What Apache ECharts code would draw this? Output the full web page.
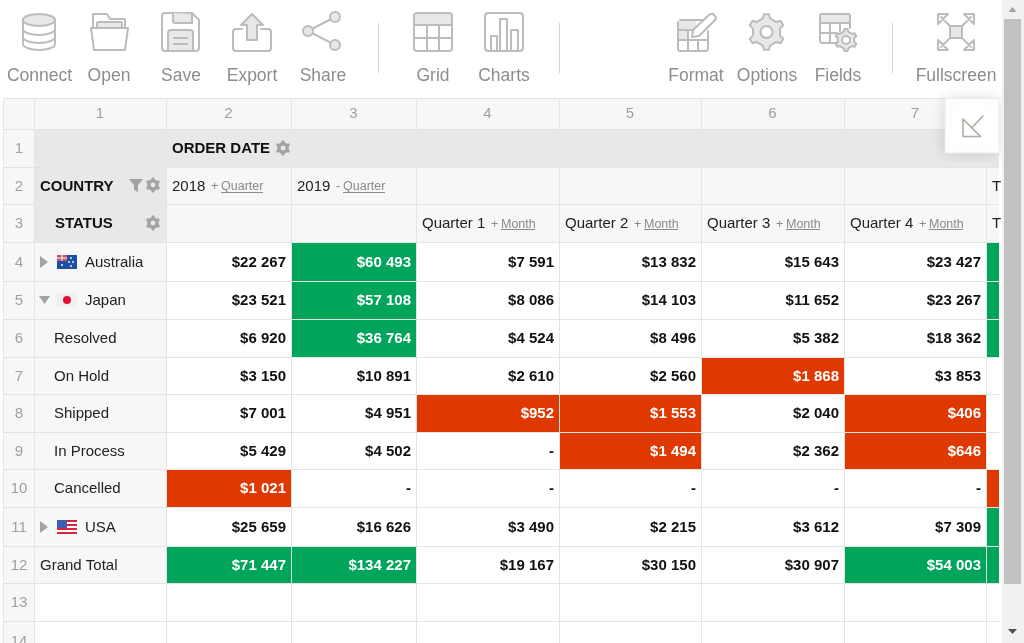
<!DOCTYPE html>
<html><head><meta charset="utf-8"><title>Pivot table</title>
<style>html,body{margin:0;padding:0;background:#fff;overflow:hidden}#c{width:1024px;height:643px}</style>
<script src="https://cdn.jsdelivr.net/npm/echarts@6/dist/echarts.min.js"></script>
</head><body><div id="c"></div>
<script>
// ---- data ----
const toolLabels = ['Connect','Open','Save','Export','Share','Grid','Charts','Format','Options','Fields','Fullscreen'];
const colNumbers = ['1','2','3','4','5','6','7'];
const rowNumbers = ['1','2','3','4','5','6','7','8','9','10','11','12','13','14'];
const countries = ['Australia','Japan','USA'];
const statuses = ['Resolved','On Hold','Shipped','In Process','Cancelled'];
const quarters = ['Quarter 1','Quarter 2','Quarter 3','Quarter 4'];
const years = ['2018','2019'];
const total2018 = [22267,23521,6920,3150,7001,5429,1021,25659,71447];
const total2019 = [60493,57108,36764,10891,4951,4502,null,16626,134227];
const q1 = [7591,8086,4524,2610,952,null,null,3490,19167];
const q2 = [13832,14103,8496,2560,1553,1494,null,2215,30150];
const q3 = [15643,11652,5382,1868,2040,2362,null,3612,30907];
const q4 = [23427,23267,18362,3853,406,646,null,7309,54003];
const grandTotal = [82760,80629,43684,14041,11952,9931,1021,42285,205674];
const valueColumns = [total2018,total2019,q1,q2,q3,q4,grandTotal];

// ---- layout ----
const colEdges = [3,34,166,291,416,559,701,844,986,999];
const rowEdges = [98,129,167,204,242,281,319,357,394,432,469,507,546,583,621,660];
const FONT = '"Liberation Sans",Arial,sans-serif';
const GREEN='#00a45a', RED='#df3800', ZONE='#e8e8e8', HEAD='#f7f7f7', LINE='#e4e4e4', INK='#111111', TXT='#222222', MUTED='#a0a0a0';
const S='#bcbcbc', F='#e8e8e8';
const midY = r => (rowEdges[r]+rowEdges[r+1])/2;
const fmt = v => v==null ? '-' : '$'+String(v).replace(/\B(?=(\d{3})+$)/g,' ');
const heat = v => v==null ? null : v<2000 ? RED : v>35000 ? GREEN : null;

// frame cells: [col,row,colSpan,rowSpan,fill]
const frame = [];
for (let r=0;r<rowEdges.length-1;r++) for (let c=0;c<colEdges.length-1;c++) {
  let fill = '#ffffff';
  if (r===0||c===0||r<=3||(c===1&&r<=12)) fill = HEAD;
  frame.push([c,r,1,1,fill]);
}
frame.push([1,1,8,1,ZONE]);
frame.push([1,2,1,2,ZONE]);
// value cells: [col,row,value]
const cells = [];
valueColumns.forEach((col,i)=>col.forEach((v,j)=>cells.push([i+2,j+4,v])));

// text items: [x,y,text,align,font,color]
const N15='15px '+FONT, B15='bold 15px '+FONT, N13='12.5px '+FONT;
const labels = [];
const txtY = r => midY(r)+1;
colNumbers.forEach((t,i)=>labels.push([(colEdges[i+1]+colEdges[i+2])/2,midY(0),t,'center',N15,MUTED]));
rowNumbers.forEach((t,i)=>labels.push([19,txtY(i+1),t,'center',N15,MUTED]));
labels.push([172,txtY(1),'ORDER DATE','left',B15,INK]);
labels.push([40,txtY(2),'COUNTRY','left',B15,INK]);
labels.push([55,txtY(3),'STATUS','left',B15,INK]);
const linkItems=[];
function link(x,y,sym,symX,t,w){labels.push([symX,y+1.5,sym,'left',N13,'#8a8a8a']);labels.push([x,y+1.5,t,'left',N13,'#8a8a8a']);linkItems.push([x,y+6,x+w]);}
labels.push([172,txtY(2),years[0],'left',N15,TXT]); link(221,midY(2),'+',211,'Quarter',42);
labels.push([297,txtY(2),years[1],'left',N15,TXT]); link(343,midY(2),'-',336,'Quarter',42);
quarters.forEach((t,i)=>{const x=colEdges[i+4]+6;labels.push([x,txtY(3),t,'left',N15,TXT]);link(x+79,midY(3),'+',x+69,'Month',34);});
labels.push([992,txtY(2),'T','left',N15,TXT]);
labels.push([992,txtY(3),'T','left',N15,TXT]);
labels.push([85,txtY(4),countries[0],'left',N15,TXT]);
labels.push([85,txtY(5),countries[1],'left',N15,TXT]);
statuses.forEach((t,i)=>labels.push([54,txtY(6+i),t,'left',N15,TXT]));
labels.push([85,txtY(11),countries[2],'left',N15,TXT]);
labels.push([40,txtY(12),'Grand Total','left',N15,TXT]);

// ---- icon helpers ----
const gearPath=(cx,cy,R,teeth=6)=>{const r=R*0.78,pts=[];const st=Math.PI*2/teeth;
  for(let i=0;i<teeth;i++){const a=i*st-Math.PI/2;const d=st*0.14,e=st*0.25;
    [[r,a-e],[R,a-d],[R,a+d],[r,a+e]].forEach(([m,t])=>pts.push((cx+m*Math.cos(t)).toFixed(2)+' '+(cy+m*Math.sin(t)).toFixed(2)));}
  return 'M'+pts.join(' L')+' Z';};
const P=(x,y,d,fill,stroke,lw)=>({type:'path',x,y,shape:{pathData:d},style:{fill:fill||'none',stroke:stroke===undefined?S:stroke,lineWidth:lw||2,lineJoin:'round',lineCap:'round'}});
const R=(x,y,w,h,fill,r)=>({type:'rect',shape:{x,y,width:w,height:h,r:r||0},style:{fill}});
const C=(x,y,rad,fill,stroke,lw)=>({type:'circle',shape:{cx:x,cy:y,r:rad},style:{fill,stroke:stroke||null,lineWidth:lw||0}});
const rr='M3 0 H35 Q38 0 38 3 V35 Q38 38 35 38 H3 Q0 38 0 35 V3 Q0 0 3 0 Z';
const icons=[
 P(23,14,'M0 6 A16 6 0 0 1 32 6 A16 6 0 0 1 0 6 Z',F),
 P(23,14,'M0 6 V30 A16 6 0 0 0 32 30 V6 M0 15 A16 6 0 0 0 32 15 M0 23 A16 6 0 0 0 32 23'),
 P(91,13,'M2 15 V1 H16 L19 6 H33 Q34 6 34 8 V15'),
 P(91,13,'M6 15 V10 Q6 9 8 9 H30 Q31 9 31 10 V15',F),
 P(91,13,'M0 15 H37 L34 37 H3 Z','#fff'),
 P(162,13,'M3 0 H30 L37 7 V35 Q37 38 34 38 H3 Q0 38 0 35 V3 Q0 0 3 0 Z'),
 P(162,13,'M11 0 V8 Q11 10 13 10 H30 V1',F),
 P(162,13,'M6 38 V20 Q6 17 9 17 H28 Q31 17 31 20 V38 Z',F),
 P(162,13,'M12 25 H25 M12 31 H25'),
 P(233,13,'M9 16 H3 Q0 16 0 19 V35 Q0 38 3 38 H35 Q38 38 38 35 V19 Q38 16 35 16 H28'),
 P(233,13,'M19 1 L30 12 H24 V27 H14 V12 H8 Z',F),
 P(0,0,'M335 17 L308 31 L335 45'),
 C(335,17,5,F,S,2),C(308,31,5,F,S,2),C(335,45,5,F,S,2),
 R(415,14,36,11,F,2),
 P(414,13,rr),
 P(414,13,'M0 12 H38 M0 25 H38 M13 12 V38 M25 12 V38'),
 P(485,13,rr),
 P(485,13,'M6 38 V23 H12 V38 M15 38 V6 H22 V38 M26 38 V17 H33 V38'),
 R(679,21,17,9,F),R(679,30,9,10,F),
 P(678,13,'M2 7 H26 M0 9 V36 Q0 38 2 38 H28 Q30 38 30 36 V18 M0 17 H14 M0 27 H30 M10 17 V38 M20 27 V38'),
 P(678,13,'M14 24 L15 17 L31 2 Q33 0 35 1 L37 3 Q39 5 37 7 L21 23 Z','#fff'),
 P(0,0,gearPath(766.5,32,18),F),
 C(766.5,32,6,'#fff',S,2),
 R(821,15,29,8,F,2),
 P(820,14,'M20 29 H2 Q0 29 0 27 V2 Q0 0 2 0 H28 Q30 0 30 2 V14 M0 9 H30 M0 19 H16 M10 9 V29 M20 9 V17'),
 P(0,0,gearPath(846,40,11),F),
 C(846,40,4,'#fff',S,2),
 R(950,26,13,13,F),
 P(937,13,'M1 1 H11 L1 11 Z M37 1 H27 L37 11 Z M1 37 H11 L1 27 Z M37 37 H27 L37 27 Z M4 4 L13 13 M34 4 L25 13 M4 34 L13 25 M34 34 L25 25 M13 13 H25 V25 H13 Z'),
];
const toolX=[39.5,109,181,252,323,433,504,696,767,838,956];
const toolText=toolLabels.map((t,i)=>({type:'text',style:{text:t,x:toolX[i],y:76,align:'center',verticalAlign:'middle',font:'17.5px '+FONT,fill:'#8d8d8d'}}));
const seps=[378,559,892].map(x=>R(x,23,1,50,'#d5d5d5'));
const flags=[
 // Australia
 R(57,255,20,14,'#1b4fa8'),R(57,255,10,6,'#c9535f'),R(57,257.5,10,1,'#fff'),R(61.5,255,1,6,'#fff'),
 C(62,265,1,'#fff'),C(71,258,.9,'#fff'),C(73,262,.9,'#fff'),C(69,262,.9,'#fff'),C(71,266,.9,'#fff'),
 // Japan
 R(57,293,20,14,'#f0f0f0'),C(67,300,4,'#e0102f'),
 // USA
 R(57,520,20,14,'#fff'),R(57,520,20,2,'#d8253f'),R(57,524,20,2,'#d8253f'),R(57,528,20,2,'#d8253f'),R(57,532,20,2,'#d8253f'),R(57,520,10,8,'#3f5fb5'),
];
const glyphs=[
 P(0,0,'M40 256 L48 262 L40 268 Z','#a3a3a3',null),
 P(0,0,'M39 296 H50 L44.5 304 Z','#a3a3a3',null),
 P(0,0,'M40 521 L48 527 L40 533 Z','#a3a3a3',null),
 P(0,0,'M129 179 H143 L138 185 V192 L134 190 V185 Z','#a3a3a3',null),
 ...[[283,148],[153,185],[153,223]].flatMap(([x,y])=>[P(0,0,gearPath(x,y,7.5),'#a3a3a3',null),C(x,y,2.4,ZONE)]),
];
const button=[
 {type:'rect',shape:{x:945,y:98.5,width:54,height:54.5},style:{fill:'#fff',stroke:'#eeeeee',lineWidth:1,shadowBlur:14,shadowColor:'rgba(0,0,0,0.14)'}},
 P(0,0,'M963 119 V136.5 H980.5 Z M972 127.5 L983 116','none','#b0aaa4',1.6),
];
const scrollbar=[
 R(1002,0,22,643,'#f1f1f1'),
 R(1004,19,17,565,'#c1c1c1'),
 P(0,0,'M1008.5 12 L1012.5 7 L1016.5 12 Z','#a3a3a3',null),
 P(0,0,'M1008 629 H1017 L1012.5 634 Z','#505050',null),
];
const chrome=[...icons,...toolText,...seps,...flags,...glyphs,...button,...scrollbar];

// ---- chart ----
const chart=echarts.init(document.getElementById('c'),null,{renderer:'canvas',width:1024,height:643});
const box=(api,x0,y0,x1,y1)=>{const a=api.coord([x0,y0]),b=api.coord([x1,y1]);return{x:a[0],y:a[1],width:b[0]-a[0],height:b[1]-a[1]};};
chart.setOption({
 animation:false,
 backgroundColor:'#ffffff',
 tooltip:{show:false},
 grid:{left:0,right:0,top:0,bottom:0},
 xAxis:{type:'value',min:0,max:1024,show:false},
 yAxis:{type:'value',min:0,max:643,inverse:true,show:false},
 series:[
  {type:'custom',name:'table line',silent:true,z:1,clip:true,data:[[3,98,999,660]],
   renderItem:(p,api)=>({type:'rect',shape:box(api,api.value(0),api.value(1),api.value(2),api.value(3)),style:{fill:LINE}})},
  {type:'custom',name:'frame',silent:true,z:2,clip:true,data:frame,
   renderItem:(p,api)=>{const d=frame[p.dataIndex];
     return{type:'rect',shape:box(api,colEdges[d[0]]+1,rowEdges[d[1]]+1,colEdges[d[0]+d[2]],rowEdges[d[1]+d[3]]),style:{fill:d[4]}};}},
  {type:'custom',name:'values',silent:true,z:3,clip:true,data:cells,
   renderItem:(p,api)=>{const d=cells[p.dataIndex],c=d[0],r=d[1],v=d[2],col=heat(v),children=[];
     if(col)children.push({type:'rect',shape:box(api,colEdges[c]+1,rowEdges[r]+1,colEdges[c+1],rowEdges[r+1]),style:{fill:col}});
     if(c<8){const q=api.coord([colEdges[c+1]-5,txtY(r)]);
       children.push({type:'text',style:{text:fmt(v),x:q[0],y:q[1],align:'right',verticalAlign:'middle',font:B15,fill:col?'#ffffff':INK}});}
     return{type:'group',children};}},
  {type:'custom',name:'labels',silent:true,z:4,clip:true,data:labels,
   renderItem:(p,api)=>{const d=labels[p.dataIndex],q=api.coord([d[0],d[1]]);
     return{type:'text',style:{text:d[2],x:q[0],y:q[1],align:d[3],verticalAlign:'middle',font:d[4],fill:d[5]}};}},
  {type:'custom',name:'links',silent:true,z:4,clip:true,data:linkItems,
   renderItem:(p,api)=>{const d=linkItems[p.dataIndex],a=api.coord([d[0],d[1]]),b=api.coord([d[2],d[1]]);
     return{type:'line',shape:{x1:a[0],y1:Math.round(a[1])+.5,x2:b[0],y2:Math.round(b[1])+.5},style:{stroke:'#8a8a8a',lineWidth:1}};}},
  {type:'custom',name:'chrome',silent:true,z:10,clip:false,data:[[0,0]],
   renderItem:()=>({type:'group',children:chrome})},
 ]
});
</script></body></html>
